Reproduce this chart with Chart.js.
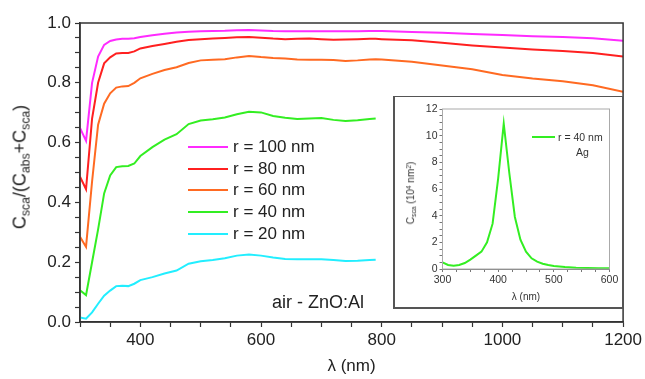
<!DOCTYPE html>
<html>
<head>
<meta charset="utf-8">
<script src="https://cdn.jsdelivr.net/npm/chart.js@4.4.0/dist/chart.umd.min.js"></script>
<style>
  body { margin: 0; background: #fff; font-family: 'Liberation Sans', Arial, sans-serif; }
  #wrap { position: relative; width: 645px; height: 379px; }
  #main { position: absolute; left: 0; top: 0; }
  #ytitle { position: absolute; left: 21px; top: 167px; transform: translate(-50%, -50%) rotate(-90deg);
            font-size: 18px; line-height: 1; white-space: nowrap; color: #222; }
  #ytitle sub, #itit sub { font-size: 0.68em; vertical-align: -0.3em; }
  #itit sup { font-size: 0.68em; vertical-align: 0.45em; }
  #legend { position: absolute; left: 188px; top: 136px; font-size: 17px; color: #222; }
  .row { display: flex; align-items: center; height: 21.8px; white-space: nowrap; }
  .swatch { width: 40px; height: 2px; margin-right: 5px; }
  #note { position: absolute; left: 272px; top: 292px; font-size: 18px; color: #222; }
  #inset { position: absolute; left: 393px; top: 96px; width: 231px; height: 213px; box-sizing: border-box;
           border: 2px solid #555; border-top-width: 1.5px; background: #fff; }
  #insetChart { position: absolute; left: 0; top: 0; }
  #itit { position: absolute; left: 17px; top: 96px; transform: translate(-50%, -50%) rotate(-90deg);
          font-size: 10px; line-height: 1; white-space: nowrap; color: #333; }
  #ileg { position: absolute; left: 137px; top: 33px; font-size: 10.5px; color: #333; }
  #ileg .swatch { width: 23px; margin-right: 3px; }
  #ileg .ag { text-align: center; padding-left: 30px; margin-top: 2px; }
</style>
</head>
<body>
<div id="wrap">
  <canvas id="main" width="645" height="379"></canvas>
  <div id="ytitle">C<sub>sca</sub>/(C<sub>abs</sub>+C<sub>sca</sub>)</div>
  <div id="legend"></div>
  <div id="note">air - ZnO:Al</div>
  <div id="inset">
    <canvas id="insetChart" width="227" height="209"></canvas>
    <div id="itit">C<sub>sca</sub> (10<sup>4</sup> nm<sup>2</sup>)</div>
    <div id="ileg"></div>
  </div>
</div>
<script>
// wavelength grid (nm) of the main plot
const lambda = [300, 310, 320, 330, 340, 350, 360, 370, 380, 390, 400, 420, 440, 460, 480, 500, 520, 540, 560, 580,
                600, 620, 640, 660, 680, 700, 720, 740, 760, 780, 790, 800, 850, 900, 950, 1000, 1050, 1100, 1150, 1200];

const r100 = [0.649, 0.606, 0.80, 0.888, 0.927, 0.94, 0.945, 0.947, 0.947, 0.949, 0.953, 0.959, 0.964, 0.968, 0.971, 0.972, 0.973, 0.974, 0.976, 0.977,
              0.975, 0.973, 0.972, 0.972, 0.972, 0.972, 0.972, 0.972, 0.972, 0.973, 0.973, 0.973, 0.970, 0.967, 0.963, 0.960, 0.956, 0.953, 0.949, 0.941];
const r80 = [0.486, 0.444, 0.68, 0.80, 0.865, 0.885, 0.898, 0.90, 0.90, 0.905, 0.915, 0.923, 0.93, 0.937, 0.943, 0.946, 0.948, 0.95, 0.952, 0.953,
             0.951, 0.948, 0.946, 0.947, 0.948, 0.946, 0.944, 0.945, 0.946, 0.947, 0.947, 0.946, 0.942, 0.934, 0.925, 0.918, 0.911, 0.906, 0.90, 0.888];
const r60 = [0.285, 0.251, 0.47, 0.66, 0.73, 0.765, 0.784, 0.788, 0.789, 0.80, 0.815, 0.83, 0.843, 0.852, 0.866, 0.875, 0.877, 0.879, 0.885, 0.89,
             0.886, 0.883, 0.881, 0.878, 0.877, 0.877, 0.876, 0.873, 0.875, 0.878, 0.879, 0.878, 0.870, 0.858, 0.845, 0.826, 0.814, 0.805, 0.792, 0.77];
const r40 = [0.106, 0.09, 0.20, 0.31, 0.43, 0.49, 0.518, 0.521, 0.522, 0.53, 0.555, 0.585, 0.61, 0.628, 0.662, 0.674, 0.678, 0.684, 0.695, 0.703,
             0.701, 0.689, 0.683, 0.679, 0.681, 0.682, 0.676, 0.672, 0.675, 0.679, 0.681, null, null, null, null, null, null, null, null, null];
const r20 = [0.015, 0.011, 0.032, 0.061, 0.088, 0.105, 0.12, 0.121, 0.12, 0.128, 0.14, 0.15, 0.162, 0.172, 0.195, 0.203, 0.207, 0.213, 0.222, 0.226,
             0.222, 0.216, 0.211, 0.21, 0.21, 0.21, 0.207, 0.204, 0.205, 0.207, 0.208, null, null, null, null, null, null, null, null, null];

const seriesNames = ['r = 100 nm', 'r = 80 nm', 'r = 60 nm', 'r = 40 nm', 'r = 20 nm'];
const seriesValues = [r100, r80, r60, r40, r20];
const seriesColors = ['#ff2bff', '#ff2020', '#ff6a22', '#33ee22', '#22eeff'];

// inset: Ag sphere, r = 40 nm
const agLambda = [300, 310, 320, 330, 340, 350, 360, 370, 380, 390, 400, 410, 420, 430, 440, 450, 460, 470, 480, 490, 500, 520, 540, 560, 580, 600];
const agCsca = [0.5, 0.3, 0.25, 0.3, 0.45, 0.7, 1.0, 1.3, 2.0, 3.4, 6.8, 10.9, 7.2, 3.9, 2.2, 1.3, 0.8, 0.55, 0.4, 0.3, 0.22, 0.15, 0.1, 0.08, 0.06, 0.05];
const agName = 'r = 40 nm';
const agNote = 'Ag';
const agColor = '#33ee22';

const FONT = "'Liberation Sans', Arial, sans-serif";
Chart.defaults.font.family = FONT;

// box round the plot area
function framePlugin(color, width) {
  return {
    id: 'frame',
    afterDraw(chart) {
      const a = chart.chartArea, ctx = chart.ctx;
      ctx.save();
      ctx.strokeStyle = color;
      ctx.lineWidth = width;
      ctx.strokeRect(a.left, a.top, a.right - a.left, a.bottom - a.top);
      ctx.restore();
    }
  };
}

// legend of the main plot
const legend = document.getElementById('legend');
seriesNames.forEach((name, i) => {
  const row = document.createElement('div');
  row.className = 'row';
  row.innerHTML = '<div class="swatch" style="background:' + seriesColors[i] + '"></div><span>' + name + '</span>';
  legend.appendChild(row);
});

const ileg = document.getElementById('ileg');
ileg.innerHTML = '<div class="row" style="height:14px"><div class="swatch" style="background:' + agColor + '"></div><span>' + agName + '</span></div>' +
                 '<div class="ag">' + agNote + '</div>';

new Chart(document.getElementById('main'), {
  type: 'line',
  data: {
    datasets: seriesNames.map((name, i) => ({
      label: name,
      data: lambda.map((x, j) => ({ x: x, y: seriesValues[i][j] })),
      borderColor: seriesColors[i],
      borderWidth: 2,
      pointRadius: 0,
      tension: 0,
      fill: false
    }))
  },
  options: {
    responsive: false,
    animation: false,
    layout: { padding: { top: 23, right: 21, left: 0, bottom: 0 } },
    plugins: { legend: { display: false }, tooltip: { enabled: false } },
    scales: {
      x: {
        type: 'linear', min: 300, max: 1200,
        afterFit(s) { s.height = 57; },
        border: { color: '#333', width: 1.5 },
        grid: { drawOnChartArea: false, tickLength: 5, color: '#333', tickWidth: 1.2 },
        ticks: {
          stepSize: 50, autoSkip: false, maxRotation: 0, padding: 3, color: '#222', font: { size: 17 },
          callback: v => (v % 200 === 0 && v > 300) ? String(v) : ''
        },
        title: { display: true, text: 'λ (nm)', color: '#222', font: { size: 17 }, padding: { top: 0, bottom: 2 } }
      },
      y: {
        min: 0, max: 1,
        afterFit(s) { s.width = 80; },
        border: { color: '#333', width: 1.5 },
        grid: { drawOnChartArea: false, tickLength: 5, color: '#333', tickWidth: 1.2 },
        ticks: {
          stepSize: 0.05, autoSkip: false, padding: 4, color: '#222', font: { size: 17 },
          callback: v => Math.abs(v / 0.2 - Math.round(v / 0.2)) < 1e-6 ? v.toFixed(1) : ''
        }
      }
    }
  },
  plugins: [framePlugin('#333', 1.5)]
});

new Chart(document.getElementById('insetChart'), {
  type: 'line',
  data: {
    datasets: [{
      label: agName,
      data: agLambda.map((x, j) => ({ x: x, y: agCsca[j] })),
      borderColor: agColor,
      borderWidth: 2,
      pointRadius: 0,
      tension: 0,
      fill: false
    }]
  },
  options: {
    responsive: false,
    animation: false,
    layout: { padding: { top: 12, right: 12.5, left: 0, bottom: 0 } },
    plugins: { legend: { display: false }, tooltip: { enabled: false } },
    scales: {
      x: {
        type: 'linear', min: 300, max: 600,
        afterFit(s) { s.height = 37; },
        border: { color: '#777', width: 1 },
        grid: { drawOnChartArea: false, tickLength: 3, color: '#777' },
        ticks: {
          stepSize: 25, autoSkip: false, maxRotation: 0, padding: 2, color: '#333', font: { size: 10.5 },
          callback: v => v % 100 === 0 ? String(v) : ''
        },
        title: { display: true, text: 'λ (nm)', color: '#333', font: { size: 10 }, padding: { top: 0, bottom: 3 } }
      },
      y: {
        min: 0, max: 12,
        afterFit(s) { s.width = 47.5; },
        border: { color: '#777', width: 1 },
        grid: { drawOnChartArea: false, tickLength: 3, color: '#777' },
        ticks: {
          stepSize: 0.5, autoSkip: false, padding: 2, color: '#333', font: { size: 10.5 },
          callback: v => v % 2 === 0 ? String(v) : ''
        }
      }
    }
  },
  plugins: [framePlugin('#aaa', 1)]
});
</script>
</body>
</html>
